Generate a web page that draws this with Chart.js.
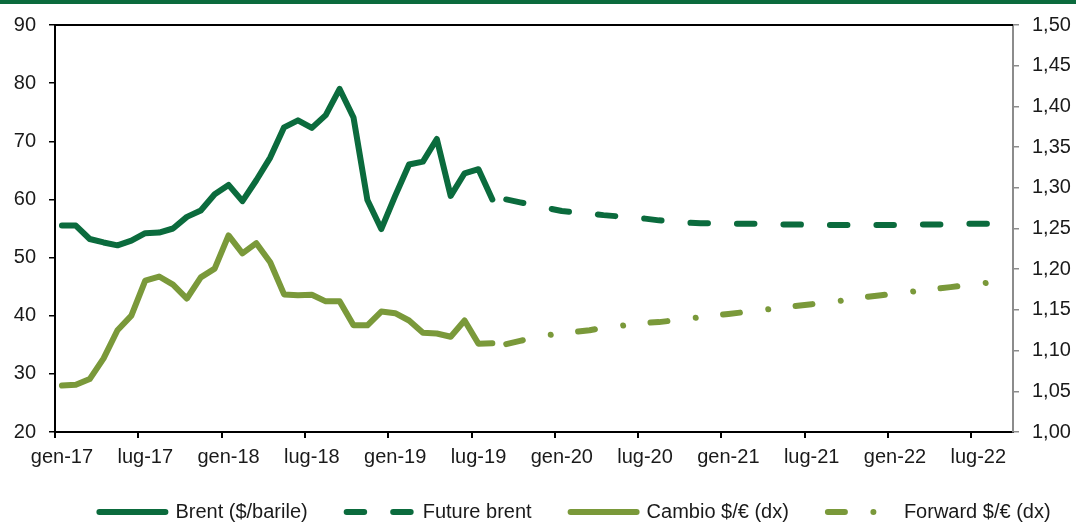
<!DOCTYPE html>
<html>
<head>
<meta charset="utf-8">
<script src="https://cdn.jsdelivr.net/npm/chart.js@4.4.1/dist/chart.umd.min.js"></script>
<style>
  html, body { margin: 0; padding: 0; background: #ffffff; }
  #wrap { position: relative; width: 1076px; height: 522px; }
</style>
</head>
<body>
<div id="wrap"><canvas id="c"></canvas></div>
<script>
// ---- categories (monthly) ----
const categories = [
  'gen-17','feb-17','mar-17','apr-17','mag-17','giu-17','lug-17','ago-17','set-17','ott-17','nov-17','dic-17',
  'gen-18','feb-18','mar-18','apr-18','mag-18','giu-18','lug-18','ago-18','set-18','ott-18','nov-18','dic-18',
  'gen-19','feb-19','mar-19','apr-19','mag-19','giu-19','lug-19','ago-19','set-19','ott-19','nov-19','dic-19',
  'gen-20','feb-20','mar-20','apr-20','mag-20','giu-20','lug-20','ago-20','set-20','ott-20','nov-20','dic-20',
  'gen-21','feb-21','mar-21','apr-21','mag-21','giu-21','lug-21','ago-21','set-21','ott-21','nov-21','dic-21',
  'gen-22','feb-22','mar-22','apr-22','mag-22','giu-22','lug-22','ago-22','set-22'
];

// ---- series values ----
// Brent ($/barile), gen-17 .. ago-19
const brent = [55.5, 55.5, 53.2, 52.6, 52.1, 52.9, 54.2, 54.3, 55.0, 57.0,
               58.1, 60.9, 62.5, 59.7, 63.3, 67.2, 72.4, 73.6, 72.3, 74.5,
               79.0, 74.1, 59.9, 54.9, 60.6, 66.0, 66.5, 70.4, 60.6, 64.5,
               65.2, 60.0];
// Future brent, set-19 .. set-22
const futureBrent = [60.0, 59.5, 59.0, 58.5, 58.0, 57.8, 57.6, 57.3, 57.1, 56.9,
                     56.7, 56.4, 56.2, 56.0, 55.9, 55.9, 55.8, 55.8, 55.8, 55.7,
                     55.7, 55.7, 55.6, 55.6, 55.6, 55.6, 55.6, 55.6, 55.6, 55.7,
                     55.7, 55.7, 55.7, 55.8, 55.8, 55.8, 55.8];
// Cambio $/€ (dx), gen-17 .. ago-19
const cambio = [1.057, 1.058, 1.065, 1.0905, 1.125, 1.143, 1.186, 1.191, 1.181, 1.164,
                1.190, 1.2007, 1.2415, 1.2195, 1.232, 1.2085, 1.169, 1.168, 1.1685, 1.1605,
                1.1605, 1.131, 1.131, 1.148, 1.146, 1.137, 1.122, 1.121, 1.117, 1.137,
                1.1085, 1.109];
// Forward $/€ (dx), set-19 .. set-22
const forward = [1.108, 1.112, 1.116, 1.119, 1.121, 1.123, 1.125, 1.128, 1.130, 1.132,
                 1.134, 1.135, 1.137, 1.139, 1.141, 1.143, 1.145, 1.147, 1.149, 1.151,
                 1.153, 1.155, 1.157, 1.159, 1.161, 1.164, 1.166, 1.168, 1.170, 1.172,
                 1.174, 1.176, 1.178, 1.180, 1.182, 1.184, 1.186];

// ---- tick labels ----
const tickEvery = 6;
const leftTicks = { min: 20, max: 90, step: 10 };
const rightTicks = { min: 1.0, max: 1.5, step: 0.05 };

const seriesNames = ['Brent ($/barile)', 'Future brent', 'Cambio $/\u20AC (dx)', 'Forward $/\u20AC (dx)'];

// build padded data for forecast series
const futureStart = brent.length;
const futureBrentData = Array(futureStart).fill(null).concat(futureBrent);
const forwardData = Array(futureStart).fill(null).concat(forward);

const DARK = '#0b6b3d';
const OLIVE = '#7a993a';
const TEXT = '#1a1a1a';

Chart.defaults.font.family = "'Liberation Sans', Arial, sans-serif";
Chart.defaults.font.size = 20;
Chart.defaults.color = TEXT;

const extras = {
  id: 'extras',
  afterLayout(chart) {
    const lg = chart.legend;
    if (lg) { lg.left += 37; lg.right += 37; lg.top -= 9; }
  },
  beforeDraw(chart) {
    const ctx = chart.ctx;
    ctx.save();
    ctx.fillStyle = DARK;
    ctx.fillRect(0, 0, chart.width, 4);
    ctx.restore();
  },
  afterDraw(chart) {
    const {ctx, chartArea} = chart;
    ctx.save();
    ctx.strokeStyle = '#000';
    ctx.lineWidth = 2;
    ctx.beginPath();
    ctx.moveTo(chartArea.left, chartArea.top);
    ctx.lineTo(chartArea.right, chartArea.top);
    ctx.stroke();
    ctx.restore();
  }
};

const common = {
  pointRadius: 0, pointHoverRadius: 0, borderWidth: 6, tension: 0,
  borderCapStyle: 'round', borderJoinStyle: 'round', fill: false, spanGaps: false
};

new Chart(document.getElementById('c'), {
  type: 'line',
  data: {
    labels: categories,
    datasets: [
      Object.assign({ label: seriesNames[0], data: brent, borderColor: DARK, backgroundColor: DARK, yAxisID: 'y' }, common),
      Object.assign({ label: seriesNames[1], data: futureBrentData, borderColor: DARK, backgroundColor: DARK, borderDash: [17.5, 29], yAxisID: 'y' }, common),
      Object.assign({ label: seriesNames[2], data: cambio, borderColor: OLIVE, backgroundColor: OLIVE, yAxisID: 'y1' }, common),
      Object.assign({ label: seriesNames[3], data: forwardData, borderColor: OLIVE, backgroundColor: OLIVE, borderDash: [17, 28.5, 0.01, 27.5], yAxisID: 'y1' }, common)
    ]
  },
  options: {
    responsive: true,
    maintainAspectRatio: false,
    animation: false,
    events: [],
    layout: { padding: { top: 24, left: 0, right: 0, bottom: 0 } },
    plugins: {
      tooltip: { enabled: false },
      legend: {
        position: 'bottom',
        maxHeight: 50,
        labels: {
          usePointStyle: true,
          pointStyleWidth: 66,
          boxWidth: 66,
          padding: 39,
          color: TEXT,
          font: { size: 20 },
          generateLabels(chart) {
            return chart.data.datasets.map((ds, i) => ({
              text: ds.label,
              fillStyle: ds.borderColor,
              strokeStyle: ds.borderColor,
              lineWidth: 6,
              lineDash: ds.borderDash || [],
              lineDashOffset: 0,
              lineCap: 'round',
              lineJoin: 'round',
              pointStyle: 'line',
              rotation: 180,
              hidden: false,
              fontColor: TEXT,
              datasetIndex: i
            }));
          }
        }
      }
    },
    scales: {
      x: {
        type: 'category',
        offset: true,
        afterFit(s) { s.height = 40; },
        grid: {
          offset: true,
          drawOnChartArea: false,
          drawTicks: true,
          tickLength: 6,
          lineWidth: 2,
          tickColor: (c) => (c.index % tickEvery === 0 ? '#000' : 'rgba(0,0,0,0)')
        },
        border: { color: '#000', width: 2 },
        ticks: {
          autoSkip: false,
          maxRotation: 0,
          minRotation: 0,
          padding: 7,
          color: TEXT,
          callback: (v, i) => (i % tickEvery === 0 ? categories[i] : '')
        }
      },
      y: {
        position: 'left',
        min: leftTicks.min, max: leftTicks.max,
        afterFit(s) { s.width = 55; },
        grid: { drawOnChartArea: false, tickLength: 6, lineWidth: 1.5, tickColor: '#000' },
        border: { color: '#000', width: 2 },
        ticks: { stepSize: leftTicks.step, padding: 13, color: TEXT, callback: (v) => String(v) }
      },
      y1: {
        position: 'right',
        min: rightTicks.min, max: rightTicks.max,
        afterFit(s) { s.width = 63; },
        grid: { drawOnChartArea: false, tickLength: 6, lineWidth: 1.5, tickColor: '#8c8c8c' },
        border: { color: '#8c8c8c', width: 2 },
        ticks: { stepSize: rightTicks.step, padding: 13, color: TEXT, callback: (v) => Number(v).toFixed(2).replace('.', ',') }
      }
    }
  },
  plugins: [extras]
});
</script>
</body>
</html>
